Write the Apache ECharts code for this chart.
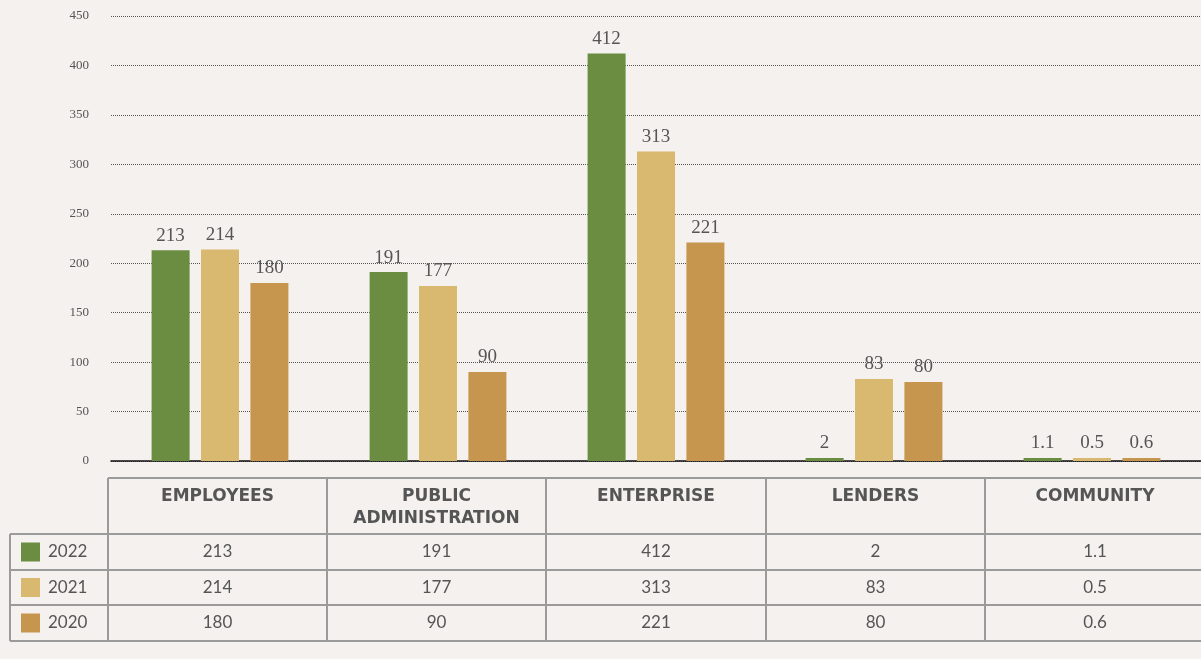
<!DOCTYPE html>
<html>
<head>
<meta charset="utf-8">
<script src="https://cdn.jsdelivr.net/npm/echarts@6/dist/echarts.min.js"></script>
<style>
  html, body { margin: 0; padding: 0; background: #f4f1ee; }
  #chart { width: 1201px; height: 659px; }
</style>
</head>
<body>
<div id="chart"></div>
<script>
// Stakeholder value distribution by year
const categories = ['EMPLOYEES', 'PUBLIC ADMINISTRATION', 'ENTERPRISE', 'LENDERS', 'COMMUNITY'];
const headerLabels = ['EMPLOYEES', 'PUBLIC\nADMINISTRATION', 'ENTERPRISE', 'LENDERS', 'COMMUNITY'];
const years = ['2022', '2021', '2020'];
const values2022 = [213, 191, 412, 2, 1.1];
const values2021 = [214, 177, 313, 83, 0.5];
const values2020 = [180, 90, 221, 80, 0.6];
const yTicks = [0, 50, 100, 150, 200, 250, 300, 350, 400, 450];

const colors = ['#6a8d42', '#d9b86f', '#c6964e'];
const seriesValues = [values2022, values2021, values2020];

const textGrey = '#555555';
const lineGrey = '#9a9a9a';

const chart = echarts.init(document.getElementById('chart'));

// table geometry
const tableLeft = 10;
const headLeft = 108;
const colEdges = [108, 327, 546, 766, 985, 1205];
const rowEdges = [478, 534, 570, 605, 641];

const graphics = [];
function hLine(x1, x2, y) {
  graphics.push({ type: 'line', shape: { x1, y1: y, x2, y2: y }, style: { stroke: lineGrey, lineWidth: 2 }, silent: true });
}
function vLine(x, y1, y2) {
  graphics.push({ type: 'line', shape: { x1: x, y1, x2: x, y2 }, style: { stroke: lineGrey, lineWidth: 2 }, silent: true });
}
hLine(headLeft, 1201, rowEdges[0]);
for (let i = 1; i < rowEdges.length; i++) hLine(tableLeft, 1201, rowEdges[i]);
vLine(tableLeft, rowEdges[1], rowEdges[4]);
for (let i = 0; i < colEdges.length - 1; i++) vLine(colEdges[i], rowEdges[0], rowEdges[4]);

// header labels
headerLabels.forEach((lab, i) => {
  const cx = (colEdges[i] + colEdges[i + 1]) / 2;
  graphics.push({
    type: 'text', x: cx, y: rowEdges[0] + 8, silent: true,
    style: {
      text: lab, fill: textGrey, font: 'bold 17px "DejaVu Sans", "Open Sans", sans-serif',
      align: 'center', verticalAlign: 'top', lineHeight: 22
    }
  });
});

// legend rows with values
years.forEach((yr, r) => {
  const top = rowEdges[r + 1];
  const bottom = rowEdges[r + 2];
  const cy = (top + bottom) / 2;
  graphics.push({ type: 'rect', shape: { x: 21, y: cy - 9.5, width: 19, height: 19 }, style: { fill: colors[r] }, silent: true });
  graphics.push({
    type: 'text', x: 48, y: cy, silent: true,
    style: { text: yr, fill: textGrey, font: '17px Lato, "Open Sans", sans-serif', align: 'left', verticalAlign: 'middle' }
  });
  seriesValues[r].forEach((v, c) => {
    const cx = (colEdges[c] + colEdges[c + 1]) / 2;
    graphics.push({
      type: 'text', x: cx, y: cy, silent: true,
      style: { text: String(v), fill: textGrey, font: '17px Lato, "Open Sans", sans-serif', align: 'center', verticalAlign: 'middle' }
    });
  });
});

const option = {
  backgroundColor: '#f4f1ee',
  animation: false,
  grid: { left: 111, right: -4.5, top: 16, bottom: 198, containLabel: false },
  xAxis: {
    type: 'category',
    data: categories,
    axisLine: { show: true, lineStyle: { color: '#111', width: 1.5 } },
    axisTick: { show: false },
    axisLabel: { show: false },
    splitLine: { show: false }
  },
  yAxis: {
    type: 'value',
    min: yTicks[0],
    max: yTicks[yTicks.length - 1],
    interval: 50,
    axisLine: { show: false },
    axisTick: { show: false },
    axisLabel: {
      color: textGrey, fontFamily: '"Liberation Serif", "DejaVu Serif", serif', fontSize: 13,
      margin: 22
    },
    splitLine: { show: true, lineStyle: { color: '#555', type: [1, 1], width: 1 } }
  },
  series: years.map((yr, i) => ({
    name: yr,
    type: 'bar',
    data: seriesValues[i],
    barWidth: 38,
    barGap: '30%',
    barMinHeight: 3,
    itemStyle: { color: colors[i] },
    label: {
      show: true, position: 'top', distance: 5,
      color: textGrey, fontFamily: '"Liberation Serif", "DejaVu Serif", serif', fontSize: 19
    }
  })),
  graphic: graphics
};

chart.setOption(option);
</script>
</body>
</html>
